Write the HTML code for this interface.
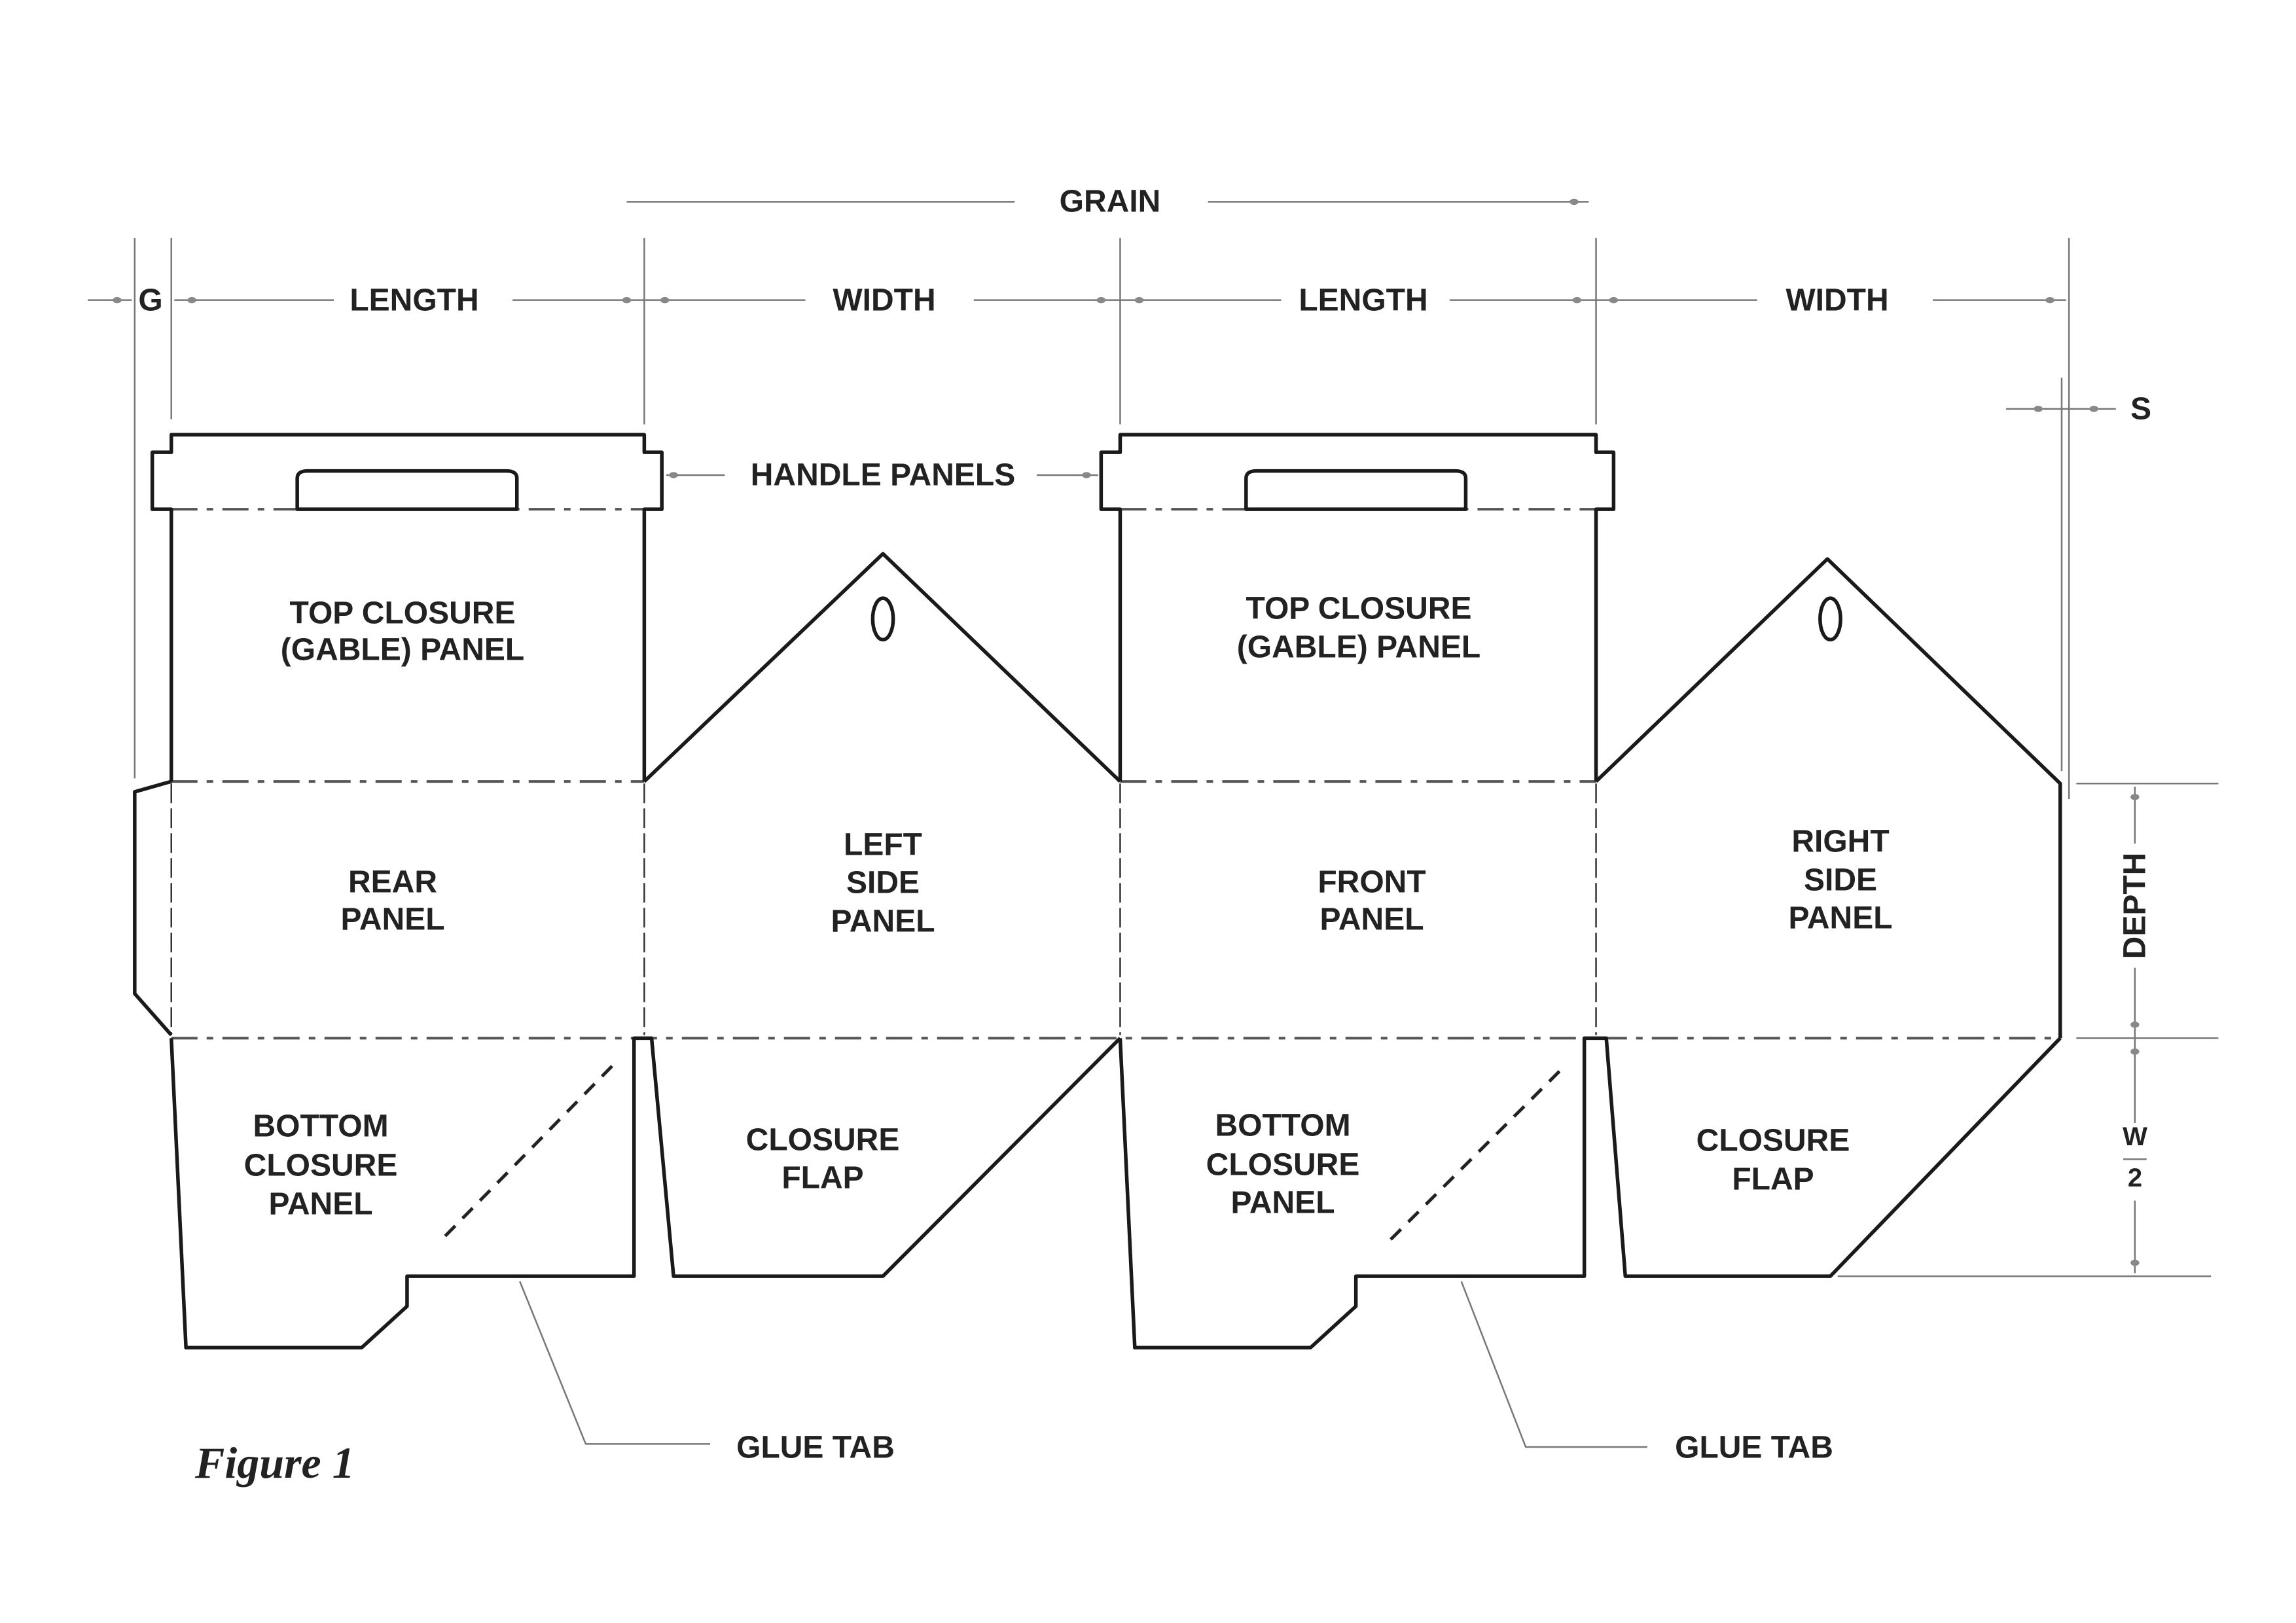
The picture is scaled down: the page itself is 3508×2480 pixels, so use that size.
<!DOCTYPE html>
<html><head><meta charset="utf-8"><style>
html,body{margin:0;padding:0;background:#fff}
svg{display:block}
text{font-family:"Liberation Sans",sans-serif;font-weight:bold;fill:#222}
</style></head><body>
<svg width="3508" height="2480" viewBox="0 0 3508 2480">
<g transform="scale(2.2372,1.5816)" fill="none" stroke-linejoin="round">
 <g stroke="#777" stroke-width="2.5">
  <line x1="92" y1="230" x2="92" y2="752" vector-effect="non-scaling-stroke"/>
  <line x1="117" y1="230" x2="117" y2="405" vector-effect="non-scaling-stroke"/>
  <line x1="440" y1="230" x2="440" y2="410" vector-effect="non-scaling-stroke"/>
  <line x1="765" y1="230" x2="765" y2="410" vector-effect="non-scaling-stroke"/>
  <line x1="1090" y1="230" x2="1090" y2="410" vector-effect="non-scaling-stroke"/>
  <line x1="1413" y1="230" x2="1413" y2="772" vector-effect="non-scaling-stroke"/>
  <line x1="1408" y1="365" x2="1408" y2="745" vector-effect="non-scaling-stroke"/>
  <line x1="60" y1="290" x2="90" y2="290" vector-effect="non-scaling-stroke"/>
  <line x1="119" y1="290" x2="228" y2="290" vector-effect="non-scaling-stroke"/>
  <line x1="350" y1="290" x2="550" y2="290" vector-effect="non-scaling-stroke"/>
  <line x1="665" y1="290" x2="875" y2="290" vector-effect="non-scaling-stroke"/>
  <line x1="990" y1="290" x2="1200" y2="290" vector-effect="non-scaling-stroke"/>
  <line x1="1320" y1="290" x2="1411" y2="290" vector-effect="non-scaling-stroke"/>
  <line x1="428" y1="195" x2="693" y2="195" vector-effect="non-scaling-stroke"/>
  <line x1="825" y1="195" x2="1085" y2="195" vector-effect="non-scaling-stroke"/>
  <line x1="1370" y1="395" x2="1445" y2="395" vector-effect="non-scaling-stroke"/>
  <line x1="455" y1="459" x2="495" y2="459" vector-effect="non-scaling-stroke"/>
  <line x1="708" y1="459" x2="750" y2="459" vector-effect="non-scaling-stroke"/>
  <line x1="1418" y1="757" x2="1515" y2="757" vector-effect="non-scaling-stroke"/>
  <line x1="1418" y1="1003" x2="1515" y2="1003" vector-effect="non-scaling-stroke"/>
  <line x1="1255" y1="1233" x2="1510" y2="1233" vector-effect="non-scaling-stroke"/>
  <line x1="1458" y1="760" x2="1458" y2="815" vector-effect="non-scaling-stroke"/>
  <line x1="1458" y1="935" x2="1458" y2="1085" vector-effect="non-scaling-stroke"/>
  <line x1="1458" y1="1160" x2="1458" y2="1230" vector-effect="non-scaling-stroke"/>
  <line x1="1450" y1="1120" x2="1466" y2="1120" vector-effect="non-scaling-stroke"/>
  <polyline points="355,1238 400,1395 485,1395" vector-effect="non-scaling-stroke"/>
  <polyline points="998,1238 1042,1398 1125,1398" vector-effect="non-scaling-stroke"/>
 </g>
 <g fill="#888" stroke="none">
  <circle cx="80" cy="290" r="3"/><circle cx="131" cy="290" r="3"/>
  <circle cx="428" cy="290" r="3"/><circle cx="454" cy="290" r="3"/>
  <circle cx="752" cy="290" r="3"/><circle cx="778" cy="290" r="3"/>
  <circle cx="1077" cy="290" r="3"/><circle cx="1102" cy="290" r="3"/>
  <circle cx="1400" cy="290" r="3"/>
  <circle cx="1392" cy="395" r="3"/><circle cx="1430" cy="395" r="3"/>
  <circle cx="1075" cy="195" r="3"/>
  <circle cx="460" cy="459" r="3"/><circle cx="742" cy="459" r="3"/>
  <circle cx="1458" cy="770" r="3"/><circle cx="1458" cy="990" r="3"/>
  <circle cx="1458" cy="1016" r="3"/><circle cx="1458" cy="1220" r="3"/>
 </g>
 <g stroke="#555" stroke-width="4" stroke-dasharray="40 14 10 14">
  <line x1="117" y1="492" x2="440" y2="492" vector-effect="non-scaling-stroke"/>
  <line x1="765" y1="492" x2="1090" y2="492" vector-effect="non-scaling-stroke"/>
  <line x1="117" y1="755" x2="440" y2="755" vector-effect="non-scaling-stroke"/>
  <line x1="765" y1="755" x2="1090" y2="755" vector-effect="non-scaling-stroke"/>
  <line x1="117" y1="1003" x2="1407" y2="1003" vector-effect="non-scaling-stroke"/>
 </g>
 <g stroke="#333" stroke-width="2.5" stroke-dasharray="30 8">
  <line x1="117" y1="757" x2="117" y2="1000" vector-effect="non-scaling-stroke"/>
  <line x1="440" y1="757" x2="440" y2="1000" vector-effect="non-scaling-stroke"/>
  <line x1="765" y1="757" x2="765" y2="1000" vector-effect="non-scaling-stroke"/>
  <line x1="1090" y1="757" x2="1090" y2="1000" vector-effect="non-scaling-stroke"/>
 </g>
 <g stroke="#222" stroke-width="5" stroke-dasharray="22 16">
  <line x1="418" y1="1030" x2="300" y2="1200" vector-effect="non-scaling-stroke"/>
  <line x1="1065" y1="1035" x2="948" y2="1200" vector-effect="non-scaling-stroke"/>
 </g>
 <g stroke="#1a1a1a" stroke-width="5.5">
  <path d="M117,755 L117,492 L104,492 L104,437 L117,437 L117,420 L440,420 L440,437 L452,437 L452,492 L440,492 L440,755" vector-effect="non-scaling-stroke"/>
  <path d="M203,492 L203,462 Q203,455 210,455 L346,455 Q353,455 353,462 L353,492 Z" vector-effect="non-scaling-stroke"/>
  <path d="M765,755 L765,492 L752,492 L752,437 L765,437 L765,420 L1090,420 L1090,437 L1102,437 L1102,492 L1090,492 L1090,755" vector-effect="non-scaling-stroke"/>
  <path d="M851,492 L851,462 Q851,455 858,455 L994,455 Q1001,455 1001,462 L1001,492 Z" vector-effect="non-scaling-stroke"/>
  <polyline points="440,755 603,535 765,755" vector-effect="non-scaling-stroke"/>
  <polyline points="1090,755 1248,540 1407,757 1407,1003" vector-effect="non-scaling-stroke"/>
  <ellipse cx="603" cy="598" rx="7" ry="20" vector-effect="non-scaling-stroke"/>
  <ellipse cx="1250" cy="598" rx="7" ry="20" vector-effect="non-scaling-stroke"/>
  <polyline points="117,755 92,765 92,960 117,1000" vector-effect="non-scaling-stroke"/>
  <polyline points="117,1003 127,1302 247,1302 278,1262 278,1233 433,1233 433,1003 440,1003 445,1003 460,1233 603,1233 765,1003" vector-effect="non-scaling-stroke"/>
  <polyline points="765,1003 775,1302 895,1302 926,1262 926,1233 1082,1233 1082,1003 1097,1003 1110,1233 1250,1233 1407,1003" vector-effect="non-scaling-stroke"/>
 </g>
</g>
<g font-size="48" text-anchor="middle" dominant-baseline="central">
 <text x="1696" y="308">GRAIN</text>
 <text x="230" y="459">G</text>
 <text x="633" y="459">LENGTH</text>
 <text x="1351" y="459">WIDTH</text>
 <text x="2083" y="459">LENGTH</text>
 <text x="2807" y="459">WIDTH</text>
 <text x="3271" y="625">S</text>
 <text x="1349" y="726">HANDLE PANELS</text>
 <text x="615" y="937">TOP CLOSURE</text>
 <text x="615" y="993">(GABLE) PANEL</text>
 <text x="2076" y="930">TOP CLOSURE</text>
 <text x="2076" y="989">(GABLE) PANEL</text>
 <text x="600" y="1348">REAR</text>
 <text x="600" y="1405">PANEL</text>
 <text x="1349" y="1291">LEFT</text>
 <text x="1349" y="1349">SIDE</text>
 <text x="1349" y="1408">PANEL</text>
 <text x="2096" y="1348">FRONT</text>
 <text x="2096" y="1405">PANEL</text>
 <text x="2812" y="1286">RIGHT</text>
 <text x="2812" y="1345">SIDE</text>
 <text x="2812" y="1403">PANEL</text>
 <text x="490" y="1721">BOTTOM</text>
 <text x="490" y="1781">CLOSURE</text>
 <text x="490" y="1840">PANEL</text>
 <text x="1257" y="1742">CLOSURE</text>
 <text x="1257" y="1800">FLAP</text>
 <text x="1960" y="1720">BOTTOM</text>
 <text x="1960" y="1780">CLOSURE</text>
 <text x="1960" y="1838">PANEL</text>
 <text x="2709" y="1743">CLOSURE</text>
 <text x="2709" y="1802">FLAP</text>
 <text x="1246" y="2212">GLUE TAB</text>
 <text x="2680" y="2212">GLUE TAB</text>
 <text x="3262" y="1384" transform="rotate(-90 3262 1384)">DEPTH</text>
 <text x="3262" y="1737" font-size="40">W</text>
 <text x="3262" y="1800" font-size="40">2</text>
</g>
<text x="298" y="2258" style="font-family:'Liberation Serif',serif;font-style:italic;font-weight:bold;font-size:68px;fill:#222">Figure 1</text>
</svg>
</body></html>
